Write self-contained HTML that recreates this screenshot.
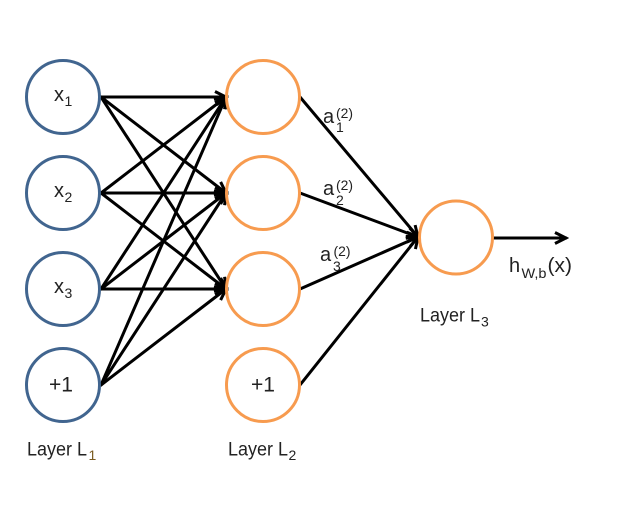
<!DOCTYPE html>
<html><head><meta charset="utf-8"><style>
html,body{margin:0;padding:0;background:#fff;width:643px;height:506px;overflow:hidden}
svg{display:block}
text{font-family:"Liberation Sans",sans-serif;fill:#222;font-size:20px}
.s{font-size:14px}
.l{font-size:19px}
</style></head><body>
<svg width="643" height="506" viewBox="0 0 643 506" xmlns="http://www.w3.org/2000/svg">
<defs>
<marker id="a" markerUnits="userSpaceOnUse" markerWidth="18" markerHeight="18" refX="15" refY="9" orient="auto">
<path d="M4 3.500 L15 9 L4 14.500" fill="none" stroke="#000" stroke-width="3"/>
</marker>
</defs>
<g fill="none" stroke="#000" stroke-width="3" stroke-linecap="round">
<line x1="101" y1="97" x2="226" y2="97" marker-end="url(#a)"/>
<line x1="101" y1="97" x2="226" y2="193" marker-end="url(#a)"/>
<line x1="101" y1="97" x2="226" y2="289" marker-end="url(#a)"/>
<line x1="101" y1="193" x2="226" y2="97" marker-end="url(#a)"/>
<line x1="101" y1="193" x2="226" y2="193" marker-end="url(#a)"/>
<line x1="101" y1="193" x2="226" y2="289" marker-end="url(#a)"/>
<line x1="101" y1="289" x2="226" y2="97" marker-end="url(#a)"/>
<line x1="101" y1="289" x2="226" y2="193" marker-end="url(#a)"/>
<line x1="101" y1="289" x2="226" y2="289" marker-end="url(#a)"/>
<line x1="101" y1="385" x2="226" y2="97" marker-end="url(#a)"/>
<line x1="101" y1="385" x2="226" y2="193" marker-end="url(#a)"/>
<line x1="101" y1="385" x2="226" y2="289" marker-end="url(#a)"/>
<line x1="300" y1="97" x2="418" y2="237" marker-end="url(#a)"/>
<line x1="300" y1="193" x2="418" y2="237" marker-end="url(#a)"/>
<line x1="300" y1="289" x2="418" y2="237" marker-end="url(#a)"/>
<line x1="300" y1="385" x2="418" y2="237" marker-end="url(#a)"/>
<line x1="494" y1="238" x2="566" y2="238" marker-end="url(#a)"/>
</g>
<g fill="none" stroke="#41658f" stroke-width="3">
<circle cx="63" cy="97" r="36.500"/>
<circle cx="63" cy="193" r="36.500"/>
<circle cx="63" cy="289" r="36.500"/>
<circle cx="63" cy="385" r="36.500"/>
</g>
<g fill="none" stroke="#f79b4f" stroke-width="3">
<circle cx="263" cy="97" r="36.500"/>
<circle cx="263" cy="193" r="36.500"/>
<circle cx="263" cy="289" r="36.500"/>
<circle cx="263" cy="385" r="36.500"/>
<circle cx="456" cy="237.500" r="36.500"/>
</g>
<text x="54" y="101">x</text><text class="s" x="64.500" y="106">1</text>
<text x="54" y="197">x</text><text class="s" x="64.500" y="202">2</text>
<text x="54" y="293">x</text><text class="s" x="64.500" y="298">3</text>
<text x="49" y="391.500" style="font-size:21px" textLength="24" lengthAdjust="spacingAndGlyphs">+1</text>
<text x="251" y="391.500" style="font-size:21px" textLength="24" lengthAdjust="spacingAndGlyphs">+1</text>
<text class="l" x="27" y="455.500" textLength="60" lengthAdjust="spacingAndGlyphs">Layer L</text><text class="s" x="88.500" y="460" style="fill:#7a5a20">1</text>
<text class="l" x="228" y="455.500" textLength="60" lengthAdjust="spacingAndGlyphs">Layer L</text><text class="s" x="288.500" y="460">2</text>
<text class="l" x="420" y="321.500" textLength="60" lengthAdjust="spacingAndGlyphs">Layer L</text><text class="s" x="481" y="326.500">3</text>
<text x="323" y="123">a</text><text class="s" x="336" y="118" textLength="17" lengthAdjust="spacingAndGlyphs">(2)</text><text class="s" x="336" y="132">1</text>
<text x="323" y="195">a</text><text class="s" x="336" y="190" textLength="17" lengthAdjust="spacingAndGlyphs">(2)</text><text class="s" x="336" y="205">2</text>
<text x="320" y="261">a</text><text class="s" x="333.500" y="256" textLength="17" lengthAdjust="spacingAndGlyphs">(2)</text><text class="s" x="333" y="271">3</text>
<text x="509" y="272">h</text><text class="s" x="521.500" y="278" textLength="25" lengthAdjust="spacingAndGlyphs">W,b</text><text x="547.500" y="272" textLength="24.500" lengthAdjust="spacingAndGlyphs">(x)</text>
</svg>
</body></html>
